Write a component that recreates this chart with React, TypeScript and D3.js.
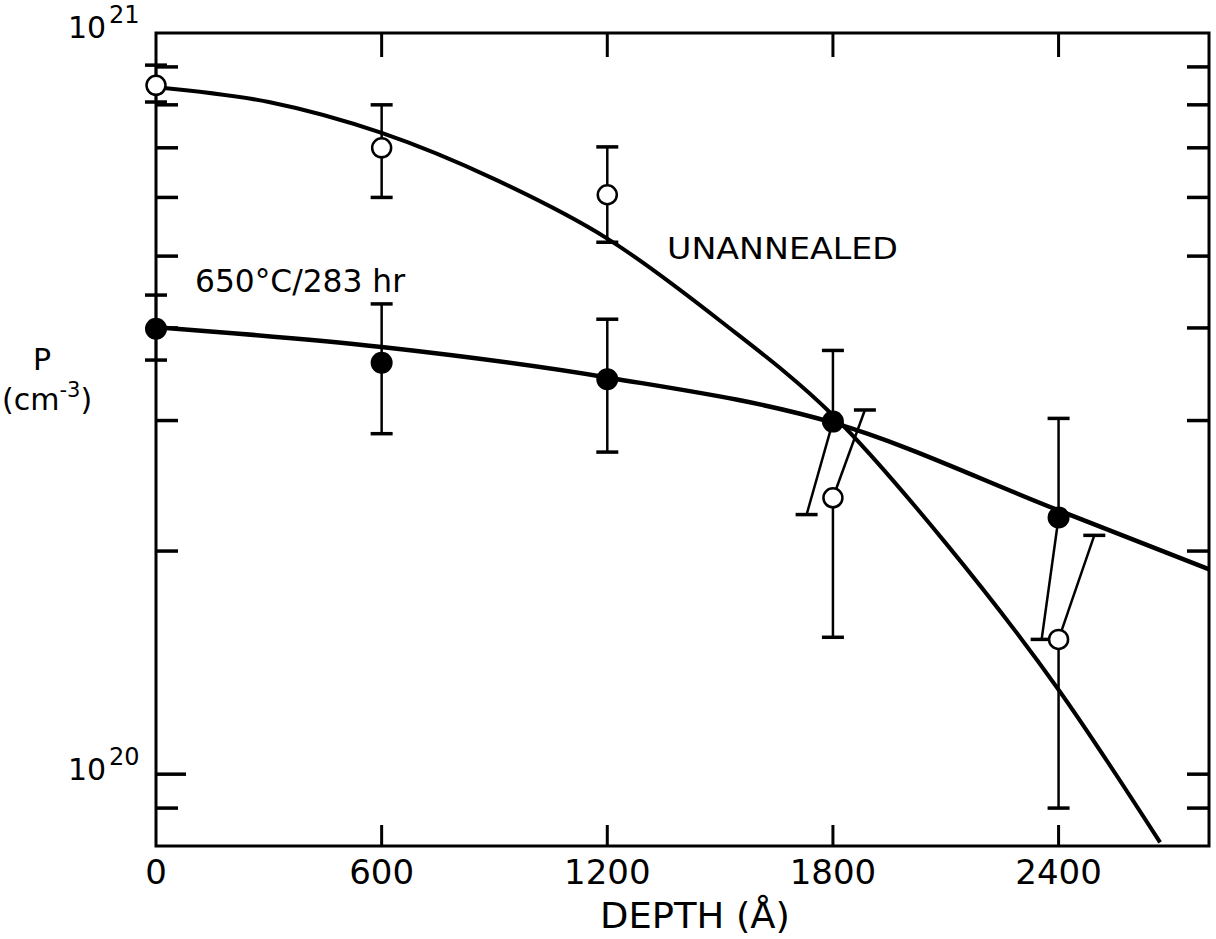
import { useEffect, useRef } from 'react';
import * as d3 from 'd3';

const WIDTH = 1216;
const HEIGHT = 939;

// axis ticks
const depthTicks = [0, 600, 1200, 1800, 2400];
const minorTicks = [9e19, 2e20, 3e20, 4e20, 5e20, 6e20, 7e20, 8e20, 9e20];

// unannealed (open circles)
const unDepth = [0, 600, 1200, 1800, 2400];
const unValue = [8.5e20, 7.0e20, 6.05e20, 2.36e20, 1.52e20];
const unHigh = [9.05e20, 8.0e20, 7.02e20, 3.1e20, 2.1e20];
const unLow = [8.07e20, 6.0e20, 5.22e20, 1.53e20, 9.0e19];
const unHighDepth = [0, 600, 1200, 1885, 2495]; // upper bar drawn shifted right

// 650°C / 283 hr (filled circles)
const anDepth = [0, 600, 1200, 1800, 2400];
const anValue = [3.99e20, 3.59e20, 3.41e20, 2.99e20, 2.22e20];
const anHigh = [4.43e20, 4.31e20, 4.11e20, 3.73e20, 3.02e20];
const anLow = [3.62e20, 2.88e20, 2.72e20, 2.24e20, 1.52e20];
const anLowDepth = [0, 600, 1200, 1730, 2355]; // lower bar drawn shifted left

// fitted curves
const unCurveDepth = [0, 300, 600, 900, 1200, 1500, 1800, 2100, 2400, 2670];
const unCurveValue = [8.45e20, 8.07e20, 7.33e20, 6.35e20, 5.28e20, 4.09e20, 3.05e20, 2.05e20, 1.3e20, 8.09e19];
const anCurveDepth = [0, 600, 1200, 1800, 2400, 2800];
const anCurveValue = [4.01e20, 3.77e20, 3.43e20, 2.98e20, 2.27e20, 1.89e20];

const FONT = '"DejaVu Sans", sans-serif';

const App = () => {
  const svgRef = useRef(null);

  useEffect(() => {
    const svg = d3.select(svgRef.current);
    svg.selectAll('*').remove();

    const x = d3.scaleLinear().domain([0, 2800]).range([156, 1209]);
    const y = d3.scaleLog().domain([8e19, 1e21]).range([846, 33]);
    const [x0, x1] = x.range();
    const [yb, yt] = y.range();

    svg.append('rect').attr('width', WIDTH).attr('height', HEIGHT).attr('fill', 'white');

    // frame
    svg.append('rect')
      .attr('x', x0).attr('y', yt)
      .attr('width', x1 - x0).attr('height', yb - yt)
      .attr('fill', 'none').attr('stroke', 'black').attr('stroke-width', 3);

    // y ticks, both sides, pointing in
    const yTicks = [...minorTicks, 1e20];
    svg.selectAll('.ytl').data(yTicks).enter().append('line')
      .attr('x1', x0).attr('x2', d => x0 + (d === 1e20 ? 30 : 22))
      .attr('y1', d => y(d)).attr('y2', d => y(d))
      .attr('stroke', 'black').attr('stroke-width', 3.5);
    svg.selectAll('.ytr').data(yTicks).enter().append('line')
      .attr('x1', x1).attr('x2', x1 - 22)
      .attr('y1', d => y(d)).attr('y2', d => y(d))
      .attr('stroke', 'black').attr('stroke-width', 3.5);

    // x ticks, bottom and top
    const inner = depthTicks.filter(d => d > 0);
    svg.selectAll('.xtb').data(inner).enter().append('line')
      .attr('x1', d => x(d)).attr('x2', d => x(d))
      .attr('y1', yb).attr('y2', yb - 21)
      .attr('stroke', 'black').attr('stroke-width', 3);
    svg.selectAll('.xtt').data(inner).enter().append('line')
      .attr('x1', d => x(d)).attr('x2', d => x(d))
      .attr('y1', yt).attr('y2', yt + 24)
      .attr('stroke', 'black').attr('stroke-width', 3);

    svg.selectAll('.xlab').data(depthTicks).enter().append('text')
      .attr('x', d => x(d)).attr('y', 884)
      .attr('text-anchor', 'middle')
      .attr('font-family', FONT).attr('font-size', 34)
      .text(d => d);

    svg.append('text')
      .attr('x', 600).attr('y', 928)
      .attr('font-family', FONT).attr('font-size', 35)
      .attr('textLength', 190).attr('lengthAdjust', 'spacingAndGlyphs')
      .text('DEPTH (Å)');

    // decade labels
    const decade = (exp: string, base: number) => {
      svg.append('text')
        .attr('x', 68).attr('y', base)
        .attr('font-family', FONT).attr('font-size', 30)
        .text('10');
      svg.append('text')
        .attr('x', 109).attr('y', base - 15)
        .attr('font-family', FONT).attr('font-size', 24)
        .text(exp);
    };
    decade('21', 38);
    decade('20', 780);

    svg.append('text')
      .attr('x', 42).attr('y', 370).attr('text-anchor', 'middle')
      .attr('font-family', FONT).attr('font-size', 30)
      .text('P');
    const cm = svg.append('text')
      .attr('x', 2).attr('y', 410)
      .attr('font-family', FONT).attr('font-size', 30);
    cm.append('tspan').text('(cm');
    cm.append('tspan').attr('dy', -13).attr('font-size', 21).text('-3');
    cm.append('tspan').attr('dy', 13).text(')');

    svg.append('text')
      .attr('x', 195).attr('y', 292)
      .attr('font-family', FONT).attr('font-size', 32)
      .attr('textLength', 210).attr('lengthAdjust', 'spacingAndGlyphs')
      .text('650°C/283 hr');

    svg.append('text')
      .attr('x', 667).attr('y', 259)
      .attr('font-family', FONT).attr('font-size', 30)
      .attr('textLength', 231).attr('lengthAdjust', 'spacingAndGlyphs')
      .text('UNANNEALED');

    // curves
    const line = d3.line<[number, number]>()
      .x(d => x(d[0])).y(d => y(d[1]))
      .curve(d3.curveMonotoneX);
    svg.append('path')
      .attr('d', line(unCurveDepth.map((d, i) => [d, unCurveValue[i]])))
      .attr('fill', 'none').attr('stroke', 'black').attr('stroke-width', 4);
    svg.append('path')
      .attr('d', line(anCurveDepth.map((d, i) => [d, anCurveValue[i]])))
      .attr('fill', 'none').attr('stroke', 'black').attr('stroke-width', 4.5);

    // error bars
    const bars = (depth: number[], val: number[], hi: number[], lo: number[], hiD: number[], loD: number[]) => {
      depth.forEach((d, i) => {
        const ends = [
          [hiD[i], hi[i]],
          [loD[i], lo[i]],
        ];
        ends.forEach(([ed, ev]) => {
          svg.append('line')
            .attr('x1', x(d)).attr('y1', y(val[i]))
            .attr('x2', x(ed)).attr('y2', y(ev))
            .attr('stroke', 'black').attr('stroke-width', 2.5);
          svg.append('line')
            .attr('x1', x(ed) - 11).attr('x2', x(ed) + 11)
            .attr('y1', y(ev)).attr('y2', y(ev))
            .attr('stroke', 'black').attr('stroke-width', 3.5);
        });
      });
    };
    bars(unDepth, unValue, unHigh, unLow, unHighDepth, unDepth);
    bars(anDepth, anValue, anHigh, anLow, anDepth, anLowDepth);

    svg.selectAll('.open').data(unDepth).enter().append('circle')
      .attr('cx', d => x(d)).attr('cy', (d, i) => y(unValue[i]))
      .attr('r', 9.5).attr('fill', 'white').attr('stroke', 'black').attr('stroke-width', 2.5);
    svg.selectAll('.filled').data(anDepth).enter().append('circle')
      .attr('cx', d => x(d)).attr('cy', (d, i) => y(anValue[i]))
      .attr('r', 11).attr('fill', 'black');
  }, []);

  return (
    <div style={{ position: 'absolute', left: 0, top: 0, background: 'white' }}>
      <svg ref={svgRef} width={WIDTH} height={HEIGHT}></svg>
    </div>
  );
};

export default App;
